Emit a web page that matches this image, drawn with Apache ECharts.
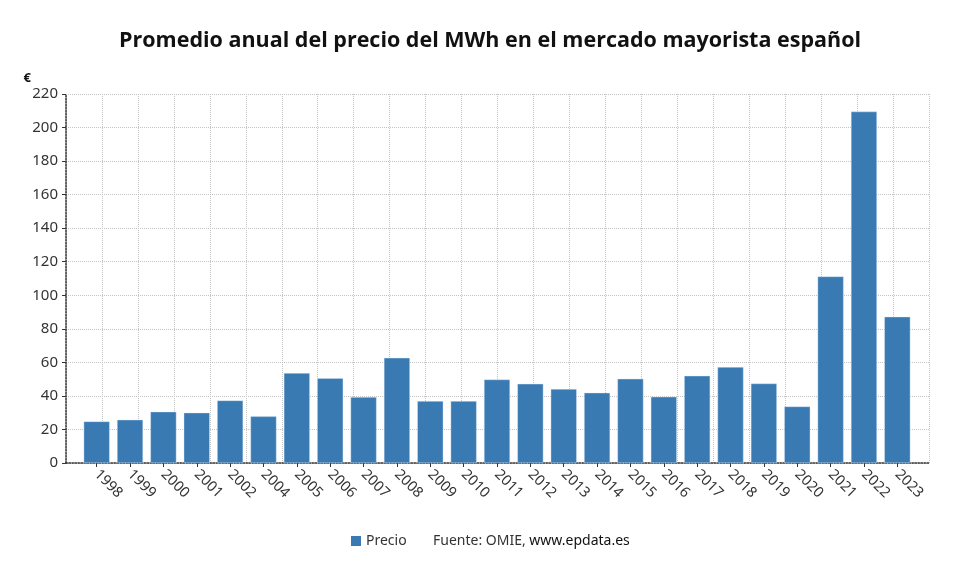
<!DOCTYPE html>
<html>
<head>
<meta charset="utf-8">
<script src="https://cdn.jsdelivr.net/npm/echarts@6/dist/echarts.min.js"></script>
<style>
  html, body { margin: 0; padding: 0; background: #fff; }
  #chart { width: 980px; height: 575px; }
</style>
</head>
<body>
<div id="chart"></div>
<script>
// Data
const years = ['1998', '1999', '2000', '2001', '2002', '2004', '2005', '2006', '2007', '2008',
  '2009', '2010', '2011', '2012', '2013', '2014', '2015', '2016', '2017', '2018',
  '2019', '2020', '2021', '2022', '2023'];
const precio = [24.8, 25.8, 30.6, 30.0, 37.3, 27.8, 53.6, 50.6, 39.3, 62.7,
  36.9, 36.9, 49.8, 47.2, 44.1, 41.9, 50.2, 39.5, 52.0, 57.2,
  47.4, 33.7, 111.2, 209.5, 87.2];

const FONT = 'Noto Sans';
const chart = echarts.init(document.getElementById('chart'));

chart.setOption({
  animation: false,
  backgroundColor: '#fff',
  textStyle: { fontFamily: FONT },
  title: {
    text: 'Promedio anual del precio del MWh en el mercado mayorista español',
    left: 'center',
    top: 25,
    textStyle: { fontFamily: 'Open Sans', fontSize: 21.5, fontWeight: 'bold', color: '#111' }
  },
  legend: {
    data: ['Precio'],
    left: 346,
    top: 529,
    icon: 'rect',
    itemWidth: 10,
    itemHeight: 10,
    itemGap: 6,
    itemStyle: { borderWidth: 0 },
    textStyle: { fontSize: 14, color: '#333' }
  },
  graphic: [{
    type: 'text',
    left: 433,
    top: 534,
    style: {
      text: '{a|Fuente: OMIE, }{b|www.epdata.es}',
      rich: {
        a: { fontFamily: FONT, fontSize: 14, fill: '#333', lineHeight: 18 },
        b: { fontFamily: FONT, fontSize: 14, fill: '#111', lineHeight: 18 }
      }
    }
  }],
  grid: [
    { left: 66, right: 51, top: 94, bottom: 112 },
    { left: 80, right: 66, top: 94, bottom: 112 }
  ],
  xAxis: [
    {
      // vertical grid lines and bottom axis line
      type: 'value', gridIndex: 0, min: 0, max: 24, interval: 1,
      axisLine: { show: true, lineStyle: { color: '#333', type: 'dotted', width: 1.5 } },
      axisTick: { show: false },
      axisLabel: { show: false },
      splitLine: { show: true, lineStyle: { color: '#c4c4c4', type: 'dotted', width: 1 } }
    },
    {
      type: 'category', gridIndex: 1, data: years,
      axisLine: { show: false },
      axisTick: { show: true, alignWithLabel: true, length: 4, lineStyle: { color: '#333' } },
      axisLabel: { rotate: -45, fontSize: 14.5, color: '#333', margin: 9, interval: 0 },
      splitLine: { show: false }
    }
  ],
  yAxis: [
    {
      type: 'value', gridIndex: 0, min: 0, max: 220, interval: 20,
      name: '€',
      nameLocation: 'end',
      nameGap: 9,
      nameTextStyle: { fontSize: 13, fontWeight: 'bold', color: '#111', align: 'right', padding: [0, 35, 0, 0] },
      axisLine: { show: true, lineStyle: { color: '#333', type: 'dotted', width: 1.5 } },
      axisTick: { show: true, length: 4, lineStyle: { color: '#333' } },
      axisLabel: { fontSize: 15, color: '#333', margin: 8 },
      splitLine: { show: true, lineStyle: { color: '#c4c4c4', type: 'dotted', width: 1 } }
    },
    {
      type: 'value', gridIndex: 1, min: 0, max: 220, interval: 20,
      show: false
    }
  ],
  series: [{
    name: 'Precio',
    type: 'bar',
    xAxisIndex: 1,
    yAxisIndex: 1,
    data: precio,
    barCategoryGap: '22%',
    itemStyle: { color: '#3a7ab3', borderColor: 'rgba(220,235,250,0.8)', borderWidth: 0.5 }
  }]
});
</script>
</body>
</html>
